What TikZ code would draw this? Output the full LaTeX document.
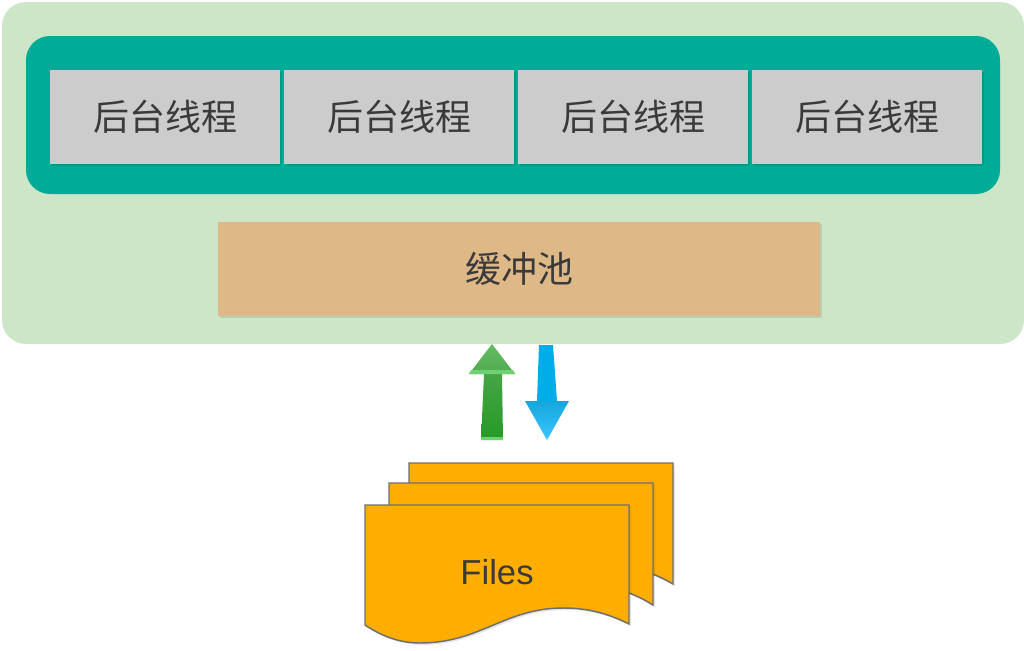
\documentclass[tikz,border=0pt]{standalone}
\usepackage{fontspec}
\setmainfont{Liberation Sans}
\newfontfamily\cjk{Noto Sans CJK SC}
\usetikzlibrary{calc, positioning, shadows}
\definecolor{colorOuter}{HTML}{CDE6C8}
\definecolor{colorPanel}{HTML}{00AC97}
\definecolor{colorThread}{HTML}{CCCCCC}
\definecolor{colorPool}{HTML}{DEB887}
\definecolor{colorFile}{HTML}{FFAE00}
\definecolor{colorEdge}{HTML}{6E6E6E}
\definecolor{colorText}{HTML}{3A3A3A}
\definecolor{colorUpHeadTop}{HTML}{63BE63}
\definecolor{colorUpHeadLow}{HTML}{4FAA50}
\definecolor{colorUpBand}{HTML}{6FD06F}
\definecolor{colorUpShaftTop}{HTML}{45A545}
\definecolor{colorUpShaft}{HTML}{259A25}
\definecolor{colorDownShaft}{HTML}{00ADE8}
\definecolor{colorDownHeadTop}{HTML}{14A6DC}
\definecolor{colorDownHeadLow}{HTML}{3CC6FF}
\tikzset{softshadow/.style={drop shadow={shadow xshift=1.5pt, shadow yshift=-1.5pt, opacity=0.1, fill=black}}}
\tikzset{threadbox/.style={fill=colorThread, minimum width=172.5pt, minimum height=70.5pt, inner sep=0pt, outer sep=0pt, text=colorText, font=\cjk\fontsize{27}{30}\selectfont, softshadow}}
\tikzset{filesheet/.style={draw=colorEdge, fill=colorFile, line width=1.1pt, softshadow}}
\newcommand{\drawsheet}[3]{\path[filesheet, shift={(#1,#2)}] (365,505) -- (629,505) -- (629,#3) .. controls (605,612) and (585,608) .. (563,608) .. controls (505,608) and (480,643) .. (420,643) .. controls (398,643) and (380,635) .. (365,625) -- cycle;}

\begin{document}
\begin{tikzpicture}[x=0.75pt, y=-0.75pt]
\useasboundingbox (0,0) rectangle (1024,650);
\node[fill=colorOuter, rounded corners=18pt, minimum width=766.5pt, minimum height=256.5pt, inner sep=0pt] (server) at (513,173) {};
\node[fill=colorPanel, rounded corners=18pt, minimum width=730.5pt, minimum height=118.5pt, inner sep=0pt] (threads) at (513,115) {};
\node[threadbox] (t1) at (165,117) {后台线程};
\node[threadbox, right=3pt of t1] (t2) {后台线程};
\node[threadbox, right=3pt of t2] (t3) {后台线程};
\node[threadbox, right=3pt of t3] (t4) {后台线程};
\node[threadbox, fill=colorPool, minimum width=451.5pt] (pool) at (519,269) {缓冲池};
% block arrows
\coordinate (upTip) at (492,344);
\coordinate (upFoot) at (492,440);
\coordinate (downFoot) at (547,345);
\coordinate (downTip) at (547,440);
\shade[top color=colorUpShaftTop, bottom color=colorUpShaft] ($(upFoot)+(-11,0)$) -- ($(upTip)+(-8,30)$) -- ($(upTip)+(10,30)$) -- ($(upFoot)+(11,0)$) -- cycle;
\fill[colorUpBand] ($(upFoot)+(-11,-3)$) rectangle ($(upFoot)+(11,0)$);
\shade[top color=colorUpHeadTop, bottom color=colorUpHeadLow] (upTip) -- ($(upTip)+(23,30)$) -- ($(upTip)+(-23,30)$) -- cycle;
\fill[colorUpBand] ($(upTip)+(-21,26)$) -- ($(upTip)+(21,26)$) -- ($(upTip)+(23,30)$) -- ($(upTip)+(-23,30)$) -- cycle;
\fill[colorDownShaft] ($(downFoot)+(-8,0)$) -- ($(downFoot)+(6,0)$) -- ($(downTip)+(10,-39)$) -- ($(downTip)+(-10,-39)$) -- cycle;
\shade[top color=colorDownHeadTop, bottom color=colorDownHeadLow] ($(downTip)+(-22,-39)$) -- ($(downTip)+(22,-39)$) -- (downTip) -- cycle;
% stacked pages
\drawsheet{44}{-42}{626}
\drawsheet{24}{-22}{627}
\drawsheet{0}{0}{624}
\node[text=colorText, font=\fontsize{26}{30}\selectfont] (files) at (497,572) {Files};
\end{tikzpicture}
\end{document}
